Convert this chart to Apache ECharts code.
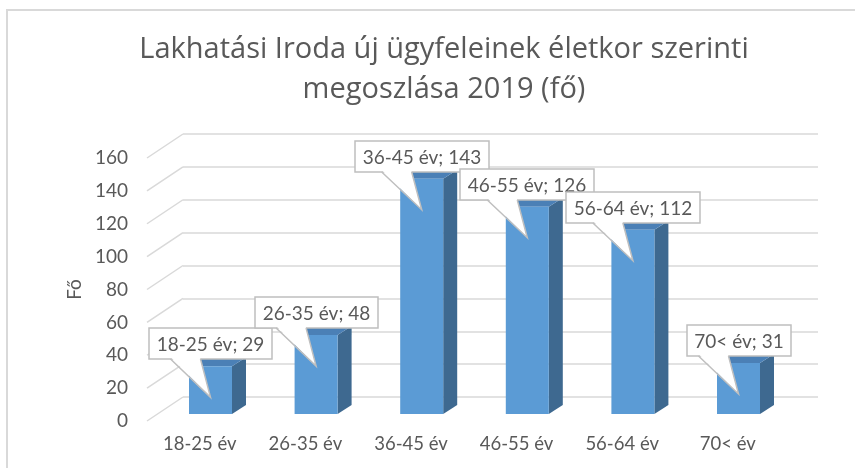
<!DOCTYPE html>
<html>
<head>
<meta charset="utf-8">
<script src="https://cdn.jsdelivr.net/npm/echarts@6/dist/echarts.min.js"></script>
<style>
  html, body { margin: 0; padding: 0; background: #fff; }
  #chart { width: 855px; height: 468px; }
</style>
</head>
<body>
<div id="chart"></div>
<script>
const categories = ['18-25 év', '26-35 év', '36-45 év', '46-55 év', '56-64 év', '70< év'];
const values = [29, 48, 143, 126, 112, 31];
const yTicks = [0, 20, 40, 60, 80, 100, 120, 140, 160];

const FONT = 'Lato, "Open Sans", sans-serif';
const TITLE_FONT = '"Open Sans", Lato, sans-serif';
const TEXT = '#595959';
const GRID_COLOR = '#d9d9d9';
const FRONT = '#5b9bd5';
const SIDE = '#3e6990';
const TOP = '#4b80b6';
// 3d look of the columns and of the side wall
const BAR_W = 43, DX = 14, DY = -9;
const WALL_DX = -36, WALL_DY = 24;

const measure = document.createElement('canvas').getContext('2d');
measure.font = '19px ' + FONT;

function renderBar(params, api) {
  const i = api.value(0), v = api.value(1);
  const t = api.coord([i, v]);
  const b = api.coord([i, 0]);
  const x0 = t[0] - BAR_W / 2, x1 = t[0] + BAR_W / 2;
  return {
    type: 'group',
    children: [
      { type: 'polygon', shape: { points: [[x1, t[1]], [x1 + DX, t[1] + DY], [x1 + DX, b[1] + DY], [x1, b[1]]] }, style: { fill: SIDE } },
      { type: 'polygon', shape: { points: [[x0, t[1]], [x0 + DX, t[1] + DY], [x1 + DX, t[1] + DY], [x1, t[1]]] }, style: { fill: TOP } },
      { type: 'rect', shape: { x: x0, y: t[1], width: BAR_W, height: b[1] - t[1] }, style: { fill: FRONT } }
    ]
  };
}

function renderCallout(params, api) {
  const i = api.value(0), v = api.value(1);
  const t = api.coord([i, v]);
  const tip = [t[0], t[1] + 31];
  const label = categories[i] + '; ' + v;
  const w = Math.round(measure.measureText(label).width) + 15, h = 31;
  const bx = Math.round(tip[0] - w / 2), by = Math.round(tip[1] - 38 - h);
  const p0 = [tip[0] - 40, by + h], p1 = [tip[0] - 10, by + h];
  return {
    type: 'group',
    children: [
      { type: 'rect', shape: { x: bx, y: by, width: w, height: h }, style: { fill: '#fff', stroke: '#bfbfbf', lineWidth: 1.5 } },
      { type: 'polygon', shape: { points: [[p0[0] + 0.5, by + h - 1.5], tip, [p1[0] - 0.5, by + h - 1.5]] }, style: { fill: '#fff' } },
      { type: 'polyline', shape: { points: [p0, tip, p1] }, style: { stroke: '#bfbfbf', lineWidth: 1.5, fill: null } },
      { type: 'text', style: { text: label, x: bx + w / 2, y: by + h / 2 + 1, align: 'center', verticalAlign: 'middle', fontSize: 19, fontFamily: FONT, fill: TEXT } }
    ]
  };
}

function renderWall(params, api) {
  const p = api.coord([0, api.value(1)]);
  return {
    type: 'line',
    shape: { x1: p[0], y1: p[1], x2: p[0] + WALL_DX, y2: p[1] + WALL_DY },
    style: { stroke: GRID_COLOR, lineWidth: 1.5 }
  };
}

const chart = echarts.init(document.getElementById('chart'), null, { renderer: 'canvas' });
chart.setOption({
  animation: false,
  textStyle: { fontFamily: FONT },
  title: {
    text: 'Lakhatási Iroda új ügyfeleinek életkor szerinti\nmegoszlása 2019 (fő)',
    left: 439,
    top: 25,
    textAlign: 'center',
    textStyle: { fontFamily: TITLE_FONT, fontSize: 29, fontWeight: 'normal', color: TEXT, lineHeight: 40 }
  },
  graphic: [{
    type: 'rect', silent: true, z: -10,
    shape: { x: 7, y: 10, width: 900, height: 520 },
    style: { fill: null, stroke: GRID_COLOR, lineWidth: 2 }
  }],
  grid: [
    { left: 183, right: 37, top: 134, bottom: 71 },      // back wall
    { left: 147, width: 633.6, top: 158, bottom: 47 },   // front edge: labels
    { left: 157.7, width: 633.6, top: 150.8, bottom: 54 } // column faces
  ],
  xAxis: [
    { gridIndex: 0, type: 'value', min: 0, max: 1, show: false },
    {
      gridIndex: 1, type: 'category', data: categories,
      axisLine: { show: false }, axisTick: { show: false },
      axisLabel: { color: TEXT, fontSize: 18.5, margin: 14, fontFamily: FONT }
    },
    { gridIndex: 2, type: 'category', data: categories, show: false }
  ],
  yAxis: [
    {
      gridIndex: 0, type: 'value', min: 0, max: 160, interval: 20,
      axisLine: { show: false }, axisTick: { show: false }, axisLabel: { show: false },
      splitLine: { lineStyle: { color: GRID_COLOR, width: 1.5 } }
    },
    {
      gridIndex: 1, type: 'value', min: 0, max: 160, interval: 20,
      axisLine: { show: false }, axisTick: { show: false }, splitLine: { show: false },
      axisLabel: { color: TEXT, fontSize: 19, margin: 19, fontFamily: FONT },
      name: 'Fő', nameLocation: 'middle', nameGap: 62,
      nameTextStyle: { color: TEXT, fontSize: 19, fontFamily: FONT }
    },
    { gridIndex: 2, type: 'value', min: 0, max: 160, show: false }
  ],
  series: [
    {
      type: 'custom', xAxisIndex: 0, yAxisIndex: 0, z: 1, silent: true,
      data: yTicks.map(v => [0, v]),
      renderItem: renderWall
    },
    {
      type: 'custom', xAxisIndex: 2, yAxisIndex: 2, z: 2,
      data: values.map((v, i) => [i, v]),
      renderItem: renderBar
    },
    {
      type: 'custom', xAxisIndex: 2, yAxisIndex: 2, z: 3,
      data: values.map((v, i) => [i, v]),
      renderItem: renderCallout
    }
  ]
});
</script>
</body>
</html>
